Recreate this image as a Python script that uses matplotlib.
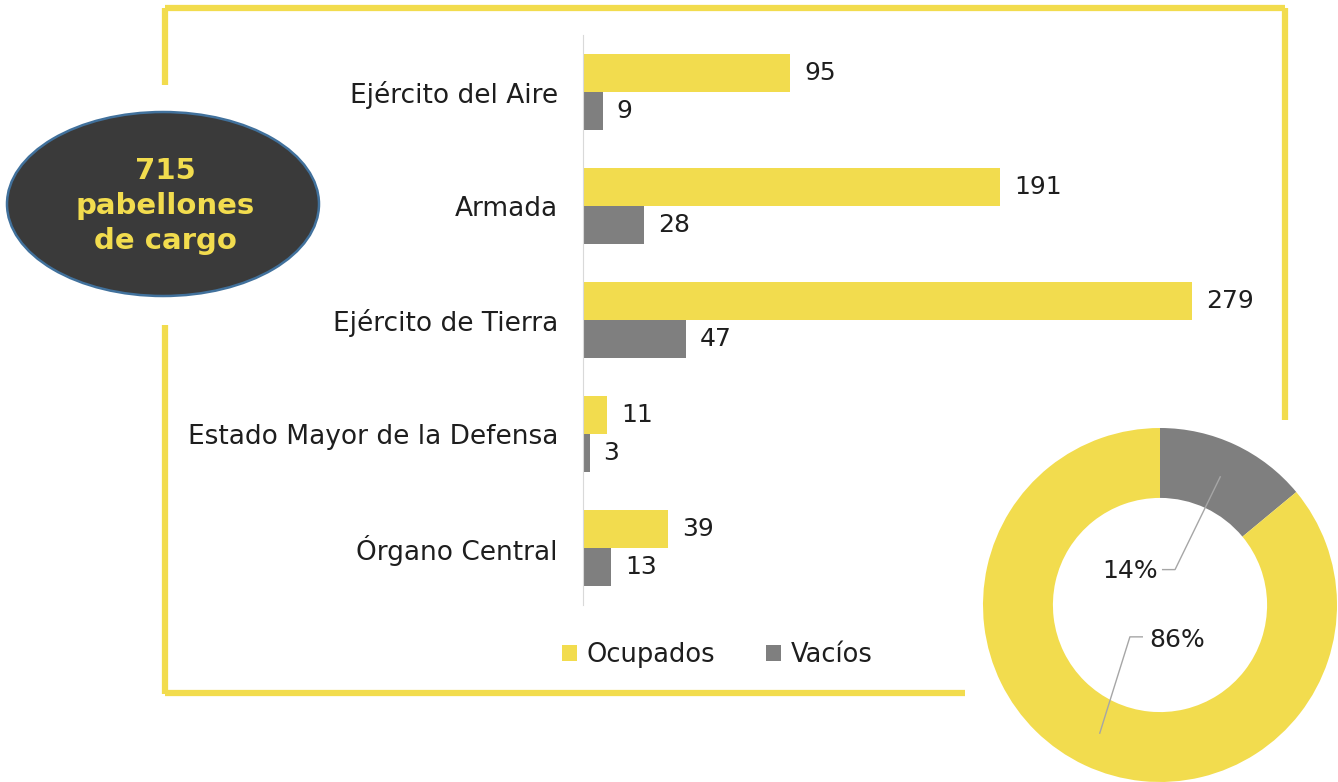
import numpy as np
import matplotlib.pyplot as plt
from matplotlib.patches import Ellipse
from matplotlib.lines import Line2D

# Data
categories = ['Ejército del Aire', 'Armada', 'Ejército de Tierra',
              'Estado Mayor de la Defensa', 'Órgano Central']
ocupados = [95, 191, 279, 11, 39]
vacios = [9, 28, 47, 3, 13]
series_names = ['Ocupados', 'Vacíos']
total_text = '715\npabellones\nde cargo'

yellow = '#F2DC4E'
gray = '#7F7F7F'
txt = '#1E1E1E'

W, H = 1338, 782
fig = plt.figure(figsize=(W / 100, H / 100), dpi=100)

def fx(px):
    return px / W

def fy(py):
    return 1 - py / H

# Yellow frame
frame = [
    ([165, 1285], [8, 8]),
    ([165, 165], [8, 85]),
    ([165, 165], [325, 694]),
    ([165, 965], [693, 693]),
    ([1285, 1285], [8, 420]),
]
for xs, ys in frame:
    fig.add_artist(Line2D([fx(x) for x in xs], [fy(y) for y in ys],
                          color=yellow, lw=4.5, solid_capstyle='butt'))

# Bar chart
ax = fig.add_axes([fx(583), fy(605), fx(1238) - fx(583), (605 - 35) / H])
y = np.arange(len(categories))
h = 0.335
b1 = ax.barh(y - h / 2, ocupados, height=h, color=yellow, label=series_names[0])
b2 = ax.barh(y + h / 2, vacios, height=h, color=gray, label=series_names[1])
ax.set_xlim(0, 300)
ax.set_ylim(len(categories) - 0.5, -0.5)
ax.set_yticks(y)
ax.set_yticklabels(categories, fontsize=19, color=txt)
ax.tick_params(axis='y', length=0, pad=18)
ax.set_xticks([])
for s in ['top', 'right', 'bottom']:
    ax.spines[s].set_visible(False)
ax.spines['left'].set_color('#D9D9D9')
ax.patch.set_alpha(0)
for bars in (b1, b2):
    ax.bar_label(bars, padding=10, fontsize=18, color=txt)

leg = fig.legend(handles=[b1, b2], labels=series_names, loc='center',
                 bbox_to_anchor=(fx(717), fy(655)), ncol=2, frameon=False,
                 fontsize=18.5, handlelength=0.6, handleheight=0.6,
                 handletextpad=0.35, columnspacing=2.0)
for t in leg.get_texts():
    t.set_color(txt)

# Ellipse with total
fig.add_artist(Ellipse((fx(163), fy(204)), 312 / W, 184 / H,
                       facecolor='#3A3A3A', edgecolor='#41719C', lw=1.8))
fig.text(fx(165), fy(206), total_text, ha='center', va='center',
         fontsize=21, fontweight='bold', color=yellow, linespacing=1.3)

# Donut
dax = fig.add_axes([fx(983), fy(782), 354 / W, 354 / H])
totals = [sum(vacios), sum(ocupados)]
wedges, _ = dax.pie(totals, colors=[gray, yellow], startangle=90,
                    counterclock=False, radius=1,
                    wedgeprops=dict(width=0.395, linewidth=0))
dax.set_xlim(-1, 1)
dax.set_ylim(-1, 1)
dax.set_aspect('equal')

pct = [100 * v / sum(totals) for v in totals]
# label positions for the two wedges (text pos, elbow, text side)
lbl = [((-0.17, 0.19), (0.085, 0.20), 'right'),
       ((0.095, -0.20), (-0.17, -0.18), 'left')]
for w, p, (tpos, elbow, side) in zip(wedges, pct, lbl):
    ang = np.deg2rad((w.theta1 + w.theta2) / 2)
    ax0 = 0.8 * np.cos(ang)
    ay0 = 0.8 * np.sin(ang)
    if side == 'right':
        end = (elbow[0] - 0.07, elbow[1])
    else:
        end = (elbow[0] + 0.07, elbow[1])
    dax.plot([ax0, elbow[0], end[0]], [ay0, elbow[1], end[1]],
             color='#A6A6A6', lw=1)
    dax.text(tpos[0], tpos[1], f'{p:.0f}%', ha='center', va='center',
             fontsize=18, color=txt)

fig.savefig('out.png', dpi=100)
